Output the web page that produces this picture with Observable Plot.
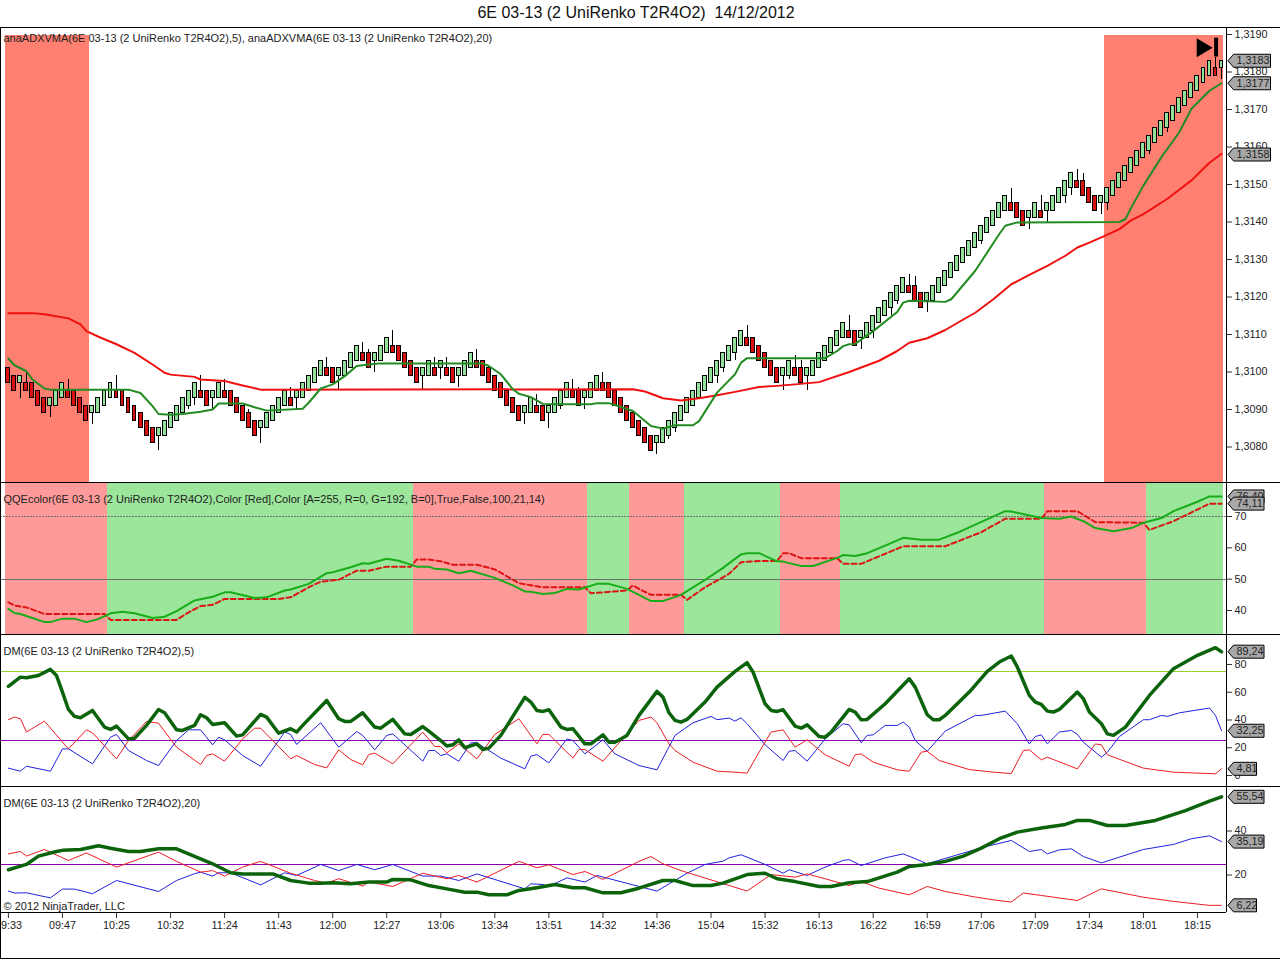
<!DOCTYPE html>
<html><head><meta charset="utf-8">
<script src="https://cdn.jsdelivr.net/npm/d3@7"></script>
<script src="https://cdn.jsdelivr.net/npm/@observablehq/plot@0.6"></script>
<style>
html,body{margin:0;padding:0;background:#fff;overflow:hidden}
#chart{position:relative;width:1280px;height:959px;overflow:hidden;font-family:"Liberation Sans",Arial,sans-serif}
#title{position:absolute;left:0;top:4px;width:1272px;text-align:center;font-size:16px;line-height:18px;color:#111;white-space:pre}
.ln{position:absolute;background:#000}
</style></head><body><div id="chart"><div id="title"></div></div>
<script>
const chartTitle = "6E 03-13 (2 UniRenko T2R4O2)  14/12/2012";
const priceLabel = "anaADXVMA(6E 03-13 (2 UniRenko T2R4O2),5), anaADXVMA(6E 03-13 (2 UniRenko T2R4O2),20)";
const qqeLabel = "QQEcolor(6E 03-13 (2 UniRenko T2R4O2),Color [Red],Color [A=255, R=0, G=192, B=0],True,False,100,21,14)";
const dm5Label = "DM(6E 03-13 (2 UniRenko T2R4O2),5)";
const dm20Label = "DM(6E 03-13 (2 UniRenko T2R4O2),20)";
const copyright = "© 2012 NinjaTrader, LLC";
const timeLabels = ["09:33","09:47","10:25","10:32","11:24","11:43","12:00","12:27","13:06","13:34","13:51","14:32","14:36","15:04","15:32","16:13","16:22","16:59","17:06","17:09","17:34","18:01","18:15"];

// Renko bars, pips above 1,3000
const barTop = [101,99,99,97,97,95,93,93,95,97, 95,95,93,91,91,93,95,97,95,95, 93,91,89,87,85,85,87,89,91,93, 95,97,95,95,95,97,95,95,93,91, 89,87,87,89,91,93,95,93,95,97,
 99,101,103,101,101,101,103,105,107,105, 105,105,107,109,107,107,105,103,101,101, 103,101,103,101,101,101,103,105,103,103, 101,99,97,95,93,91,91,93,91,91, 91,93,95,97,95,95,95,97,99,97,
 97,95,93,91,89,87,85,83,83,85, 87,89,91,93,95,97,99,101,103,105, 107,109,111,109,109,107,105,103,101,101, 103,101,101,101,103,105,107,109,111,113, 111,111,111,113,115,117,119,121,123,125,
 123,123,121,121,123,125,127,129,131,133, 135,137,139,141,143,145,147,145,145,143, 143,145,143,145,147,149,151,153,151,151, 149,147,147,149,151,153,155,157,159,161, 163,165,167,169,171,173,175,177,179,181, 183,181,183];
const barBottom = [97,95,97,95,93,91,89,91,91,93, 93,91,89,87,89,89,91,93,93,91, 89,87,85,83,81,83,83,85,87,89, 91,93,93,91,93,93,93,91,89,87, 85,83,85,85,87,89,91,91,93,93,
 95,97,99,99,97,99,99,101,103,103, 101,103,103,105,105,103,101,99,97,99, 99,99,101,99,97,99,99,101,101,99, 97,95,93,91,89,87,89,89,89,87, 89,89,91,93,93,91,93,93,95,95,
 93,91,89,87,85,83,81,79,81,81, 83,85,87,89,91,93,95,97,99,101, 103,105,107,107,105,103,101,99,97,99, 99,99,97,99,99,101,103,105,107,109, 109,107,109,109,111,113,115,117,119,121,
 121,119,117,119,119,121,123,125,127,129, 131,133,135,137,139,141,143,143,141,139, 141,141,141,143,143,145,147,149,149,147, 145,143,145,145,147,149,151,153,155,157, 159,161,163,165,167,169,171,173,175,177, 179,179,181];
const barUp = [0,0,1,0,0,0,0,1,1,1, 0,0,0,0,1,1,1,1,0,0, 0,0,0,0,0,1,1,1,1,1, 1,1,0,0,1,1,0,0,0,0, 0,0,1,1,1,1,1,0,1,1,
 1,1,1,0,0,1,1,1,1,0, 0,1,1,1,0,0,0,0,0,1, 1,0,1,0,0,1,1,1,0,0, 0,0,0,0,0,0,1,1,0,0, 1,1,1,1,0,0,1,1,1,0,
 0,0,0,0,0,0,0,0,1,1, 1,1,1,1,1,1,1,1,1,1, 1,1,1,0,0,0,0,0,0,1, 1,0,0,1,1,1,1,1,1,1, 0,0,1,1,1,1,1,1,1,1,
 0,0,0,1,1,1,1,1,1,1, 1,1,1,1,1,1,1,0,0,0, 1,1,0,1,1,1,1,1,0,0, 0,0,1,1,1,1,1,1,1,1, 1,1,1,1,1,1,1,1,1,1, 1,0,1];
const wickHighs = [[3,100],[10,98],[18,99],[32,99],[36,98],[40,90],[47,96],[53,104],[59,108],[60,106],[64,111],[71,104],[73,104],[78,106],[88,94],[94,98],[95,96],[99,100],[123,112.5],[131,104.3],[132,103],[140,115],[150,126],[151,125.4],[167,149],[172,147],[178,154],[179,153],[201,184]];
const wickLows = [[2,93],[7,88],[14,86],[25,79],[30,90],[31,91],[34,90],[42,81],[48,90],[55,95],[61,100],[69,95],[72,98],[75,96],[86,86],[90,85],[92,90],[96,90],[108,78],[110,82],[111,84],[118,97],[119,100],[121,103],[129,95],[130,98],[133,95],[142,106],[144,109],[147,115],[148,118],[153,116],[162,134],[170,138],[173,140],[176,145],[177,147],[182,142],[183,143],[190,158],[193,164],[202,178]];

const adxvma5 = [[0,103.6],[1,101.8],[3,100.2],[4,98],[6,95.6],[7,95.3],[20,95.3],[22,94.4],[24,90.9],[25,88.8],[27,88.6],[29,88.8],[32,89.4],[34,90],[35,91.6],[39,91.6],[41,90.6],[43,89.7],[49,90.2],[50,91.8],[52,95.6],[54,96.7],[56,98.9],[58,101.6],[60,102],[62,102.3],[79,102.3],[80,101.6],[82,99.4],[84,95.4],[85,94.2],[87,93.3],[89,91.5],[91,91.4],[97,91.4],[98,91.7],[100,91.7],[104,89.6],[107,85.6],[109,84.9],[111,85.8],[114,85.8],[115,86.9],[118,94.5],[121,99.4],[122,102.5],[123,103.7],[136,103.7],[138,105.6],[139,106.9],[140,107.4],[141,107.5],[144,110.9],[148,116],[149,118.5],[150,119],[156,118.7],[157,119.4],[161,127],[165,136.8],[166,139],[168,139.9],[185,140],[186,140.8],[187,143.9],[189,149.7],[192,157.3],[195,164],[197,170.2],[200,175],[201,176],[202,177]];
const adxvma20 = [[0,115.7],[4,115.7],[6,115.4],[10,114.3],[12,112.7],[13,110.9],[15,109.4],[18,107.4],[21,105.1],[24,102],[26,99.8],[27,99.3],[31,98.7],[32,98],[36,97.6],[39,96.4],[42,95.3],[104,95.4],[106,94.8],[109,93],[112,92.4],[115,93],[118,93.8],[121,94.7],[125,96],[128,96.3],[131,96.7],[135,97.3],[140,100],[145,103],[148,105.6],[150,107.8],[153,109],[156,111.2],[159,114],[161,115.8],[164,119.4],[167,123.4],[170,125.9],[173,128.3],[176,131],[178,133.2],[180,134.5],[182,135.9],[185,138.1],[187,140.5],[189,142.1],[193,146.2],[197,151.1],[200,155.8],[202,158.2]];
const alertStarts = [-0.5,182.5];
const alertEnds = [13.5,202.4];
const priceTicks = [1.308,1.309,1.31,1.311,1.312,1.313,1.314,1.315,1.316,1.317,1.318,1.319];
const priceTags = [1.3183,1.3177,1.3158];

// QQE
const qqeRedStarts = [-0.5,67.5,103.5,128.5,172.5];
const qqeRedEnds = [16.5,96.5,112.5,138.5,189.5];
const qqeGreenStarts = [16.5,96.5,112.5,138.5,189.5];
const qqeGreenEnds = [67.5,103.5,128.5,172.5,202.4];
const qqeFast = [[0,40.5],[1,39.2],[2,38.9],[4,37.6],[6,36.3],[7,36.3],[9,37.4],[11,37.4],[13,36.3],[15,37.3],[17,39.1],[19,39.6],[21,39.1],[24,37.6],[26,38],[28,39.8],[31,43.2],[34,44.4],[36,45.8],[37,45.8],[41,44],[43,44.2],[46,46.4],[47,46.7],[50,48.5],[53,51.9],[54,52.2],[57,53.8],[59,55.1],[60,54.9],[63,56.5],[65,55.9],[68,54],[70,54],[71,53.3],[73,53.1],[75,51.9],[77,52.7],[81,50.4],[84,48],[86,46.1],[87,46],[89,45.3],[91,45.6],[93,46.9],[95,46.7],[98,48.5],[100,48.5],[103,46.9],[105,45],[107,43],[109,43],[112,45],[116,49.8],[119,53.6],[122,57.9],[123,58.3],[125,58.3],[128,55.7],[129,55.6],[132,54.2],[134,54.2],[138,56.8],[139,57.7],[141,57.4],[143,58.3],[146,60.7],[149,63.2],[152,62.6],[155,62.6],[158,64.8],[161,67.4],[166,71.7],[167,71.6],[172,69.5],[175,69.3],[177,70],[179,68.5],[181,66.3],[184,65.3],[187,66.3],[189,68],[192,69.5],[194,71.7],[198,74.7],[200,76.4],[202,76.4]];
const qqeSlow = [[0,42.6],[1,41.6],[3,41],[6,38.9],[16,38.9],[17,37],[28,37],[30,39.4],[32,41.4],[34,41.8],[36,43.7],[45,43.7],[47,44.2],[50,47.4],[52,49.2],[55,49.8],[58,52.7],[60,52.7],[63,54],[67,54],[68,56.3],[70,56.3],[72,55.7],[74,54.6],[78,54.6],[81,53.1],[85,48.7],[89,47.4],[96,47.4],[97,45.5],[103,46.4],[104,48],[105,46.9],[107,45],[112,45],[113,43.4],[116,47.4],[120,51.7],[122,55.4],[125,55.8],[128,55.8],[129,58.3],[130,58.3],[132,56.7],[138,56.7],[139,54.9],[142,54.9],[149,60.5],[156,60.5],[162,65],[166,69.3],[172,69.3],[173,71.7],[178,71.7],[181,68.2],[189,68],[190,65.7],[194,68.5],[200,74.1],[202,74.1]];
const qqeTicks = [40,50,60,70];
const qqeTags = [76.40,74.11];

// DM 5
const dm5Adx = [[0,64.2],[2,70.9],[3,70.5],[5,72.1],[7,76.5],[8,72.1],[9,60.1],[10,47.6],[11,42.6],[12,41.6],[14,46.9],[16,34.9],[17,33.2],[18,35.6],[20,26.4],[21,26.9],[23,36.1],[25,47.6],[26,45.2],[28,32.9],[29,32.5],[31,36.1],[32,43.8],[33,41.6],[34,36.8],[36,38],[38,28.4],[39,29.3],[42,44],[43,42.1],[45,30.5],[47,33.7],[48,31.3],[49,36.1],[53,54.1],[55,40.9],[56,39],[57,39],[59,45.2],[61,34.9],[62,34.1],[64,40.4],[66,30],[67,29.6],[69,35.3],[70,32],[72,25.2],[73,21.2],[74,22.1],[75,25.7],[76,20],[78,22.8],[79,18.7],[80,19.7],[82,28.9],[86,56.3],[87,52.9],[88,46.9],[89,46.2],[90,47.4],[92,34.9],[93,33.2],[94,33.7],[96,22.8],[97,22.8],[99,29.3],[100,24],[101,24],[103,28.9],[105,43.3],[108,60.6],[109,56.5],[110,45.2],[111,39.7],[112,38.5],[113,40.4],[116,52.9],[118,63.7],[121,75],[123,81.3],[124,74.5],[126,51.7],[127,46.9],[128,46.2],[129,47.4],[131,35.6],[132,34.1],[133,36.5],[135,28.1],[136,27.6],[137,31.3],[140,47.6],[141,45.7],[142,40.2],[143,40.4],[146,51.7],[150,69.7],[151,63.7],[153,43.8],[154,40.2],[155,40.2],[156,43.3],[160,60.1],[163,75],[165,81.8],[167,86.1],[168,78.2],[170,57.7],[171,52.9],[172,51.2],[173,46.4],[174,45.7],[175,47.6],[178,60.1],[179,55.3],[180,45.7],[182,37.3],[183,30],[184,28.9],[186,34.9],[190,57.7],[194,77],[198,86.6],[201,92.1],[202,89.24]];
const dm5Plus = [[0,40.2],[1,42.1],[2,40.9],[3,31.3],[6,39.2],[10,19.2],[13,32.9],[14,30.8],[18,12],[20,25.2],[23,38.9],[25,37.7],[28,20.4],[32,7.9],[33,14.4],[34,15.6],[36,10.3],[39,26.4],[41,34.1],[42,34.1],[47,12],[48,14.4],[51,7.9],[53,5.5],[55,18.5],[57,11.5],[59,7.7],[60,15.1],[61,16.1],[64,8.4],[69,31.3],[71,20.9],[72,20.9],[73,16.3],[75,22.8],[78,12],[81,29.6],[85,40.9],[88,22.8],[89,29.6],[90,29.6],[94,12.5],[95,18.7],[96,18.7],[99,10.3],[103,30],[105,39.7],[107,42.1],[108,38],[110,22.8],[111,18],[114,9.6],[118,3.1],[121,2.4],[123,1.7],[125,16.8],[127,31.3],[129,32.9],[131,20.4],[133,25.7],[136,14.9],[140,6.7],[141,14.9],[142,15.6],[144,9.6],[148,4.1],[150,3.1],[152,16.8],[153,17.5],[155,10.8],[160,4.3],[164,2.4],[167,1.4],[169,18],[170,18.5],[172,11.3],[173,13.2],[178,4.8],[181,22.8],[182,22.1],[183,14.9],[189,5.3],[194,2.4],[201,1.2],[202,4.81]];
const dm5Minus = [[0,5.3],[2,3.1],[3,6.7],[7,3.1],[9,19.2],[10,19.2],[14,8.4],[17,27.6],[18,29.6],[20,18],[23,10.8],[25,7.2],[28,25.2],[30,32.9],[32,32.9],[34,22.1],[35,27.6],[36,25.7],[39,14.4],[42,6.7],[46,31.3],[47,29.6],[48,22.4],[52,38],[55,20.4],[58,31.7],[59,28.9],[61,18.5],[63,28.9],[64,30],[69,10.3],[70,18],[71,18],[72,14.4],[73,15.6],[75,10.3],[77,23.6],[78,23.6],[82,12.5],[86,4.8],[87,13.9],[88,15.1],[90,9.1],[93,26.4],[94,25.2],[96,15.6],[99,25.7],[101,15.6],[105,7.2],[108,4.1],[111,28.9],[114,38],[117,42.6],[118,40.2],[120,41.4],[121,39.2],[122,41.6],[123,37.3],[126,22.1],[129,10.8],[130,17.5],[131,18],[133,10.3],[136,26.4],[139,37.3],[140,36.5],[142,23.6],[143,28.9],[144,29.3],[146,36.1],[148,36.1],[149,38.5],[150,34.9],[151,25.2],[153,17.5],[156,32],[161,43.3],[162,43.3],[166,46.4],[168,37.3],[170,22.8],[171,28.1],[172,29.3],[173,22.8],[175,31.3],[177,32.5],[178,29.6],[179,24],[182,13.2],[183,16.8],[185,28.1],[189,40.2],[190,40.2],[192,43.3],[193,42.6],[195,45.2],[200,48.6],[201,43.3],[202,32.25]];
const dm5Ticks = [0,20,40,60,80];
const dm5Tags = [89.24,32.25,4.81];

// DM 20
const dm20Adx = [[0,22.4],[3,24.8],[5,28.6],[8,30.7],[9,31.2],[12,31.6],[15,33.3],[17,32.2],[20,30.7],[22,30.7],[25,31.9],[28,31.9],[30,29.6],[34,25.1],[37,21],[39,20.5],[44,20.5],[47,17.5],[50,16.3],[52,16.3],[54,16.5],[57,16],[60,16.8],[63,16.8],[64,18],[67,17.8],[70,15.2],[73,13.7],[76,12.2],[78,12.2],[80,11],[83,11],[85,13],[88,14.2],[91,15.7],[94,14.2],[96,14.2],[99,11.9],[102,11.9],[105,14],[109,17.5],[111,17.5],[114,15.2],[117,15.2],[119,16.3],[123,20.2],[126,20.8],[128,18.3],[131,17],[135,14.8],[137,14.8],[140,16.5],[143,17],[145,18.7],[148,21.3],[150,23.9],[153,24.8],[156,26.2],[159,28.6],[162,32.2],[165,36.5],[168,39.5],[172,41.4],[176,43],[178,44.8],[180,44.8],[183,42.5],[186,42.5],[191,44.8],[196,49.3],[200,53.6],[202,55.54]];
const dm20Plus = [[0,29.6],[2,30.7],[3,28.6],[6,31.6],[10,26.6],[13,30],[18,23.6],[25,30.4],[28,26.2],[32,21.3],[34,22],[36,19.5],[39,23.6],[42,26.2],[47,20.8],[51,17.5],[53,16.3],[55,18.3],[59,15],[60,16.8],[64,14.8],[69,20.8],[73,18.3],[75,19.8],[78,16.8],[85,26.2],[88,23.3],[90,24.6],[94,20.2],[96,21.6],[99,18],[105,26.2],[107,28.4],[109,25.1],[112,22],[123,12.7],[127,20.2],[131,19],[133,20.5],[136,18.3],[140,15.2],[142,17],[145,14],[150,11],[153,14.8],[156,12.5],[161,10],[164,8.7],[167,7.7],[169,11.8],[172,10.7],[178,8.4],[182,13.7],[189,9.9],[194,8],[200,6.2],[202,6.22]];
const dm20Minus = [[0,12.7],[1,11.8],[3,11.9],[7,9.6],[9,13.6],[11,13.6],[14,11.5],[18,17.5],[25,12.5],[28,17.5],[31,20.6],[32,21.3],[34,19.5],[35,21],[37,21],[42,15.5],[46,21],[48,19.8],[52,24.8],[55,22],[58,24.8],[61,22.4],[64,24.8],[69,19.5],[72,19.5],[75,17.5],[78,20.5],[86,13.7],[87,16],[89,15.7],[90,14.8],[93,18.7],[96,16.8],[98,19.8],[105,14.8],[108,12.7],[113,20.8],[116,24.8],[119,26.3],[120,27.8],[122,29.2],[126,24.8],[129,20.8],[130,22.4],[133,19.8],[136,23.6],[139,26.6],[140,27],[142,24.3],[146,27.8],[149,29.6],[151,27.4],[153,25.1],[162,32.4],[167,35.7],[170,30.7],[172,31.6],[173,29.6],[175,31.4],[177,31.9],[179,28.4],[182,25.5],[189,31.6],[194,33.9],[197,36.5],[200,37.8],[202,35.19]];
const dm20Ticks = [20,40];
const dm20Tags = [55.54,35.19,6.22];
const dmLevels = [25,75];

const FONT = '"Liberation Sans",Arial,sans-serif';
const LAST = 202;
const xScale = {domain:[0,LAST], range:[7.9,1221], axis:null};
const rows = a => a.map(([i,v]) => ({i,v}));
const px = p => 1.3 + p/10000;
const comma = n => f => d3.format(n)(f).replace(".",",");
const CRISP = "crispEdges";

function tagSymbol(w){
  return {draw(c){c.moveTo(0,0);c.lineTo(5.5,-6.5);c.lineTo(w,-6.5);c.lineTo(w,6.5);c.lineTo(5.5,6.5);c.closePath();}};
}
function tagMarks(values, widths, fmt){
  return values.flatMap((v,k)=>[
    Plot.dot([v],{x:()=>LAST,y:d=>d,r:4,dx:6.5,symbol:tagSymbol(widths[k]),fill:"#a8a8a8",stroke:"#000",strokeWidth:1}),
    Plot.text([v],{x:()=>LAST,y:d=>d,text:fmt,dx:15,textAnchor:"start",fill:"#222",fontSize:10.8,fontFamily:FONT})
  ]);
}
function caption(s,dy){
  return Plot.text([s],{text:d=>d,frameAnchor:"top-left",lineAnchor:"middle",dx:3,dy,fill:"#222",fontSize:11,fontFamily:FONT});
}
function yAxis(ticks,fmt){
  return Plot.axisY({anchor:"right",ticks,tickFormat:fmt,tickSize:5,tickPadding:3,label:null,stroke:"#333",fill:"#222",fontSize:10.8,fontFamily:FONT});
}
function panel(top,height,y,marks,marginBottom=0){
  const svg = Plot.plot({width:1280,height,marginTop:0,marginBottom,marginLeft:0,marginRight:54,x:xScale,y:{...y,axis:null},marks});
  svg.style.position="absolute"; svg.style.left="0"; svg.style.top=top+"px"; svg.style.background="none";
  document.getElementById("chart").appendChild(svg);
}

document.getElementById("title").textContent = chartTitle;

// PRICE PANEL
const bars = barTop.map((t,i)=>({i,top:px(t),bottom:px(barBottom[i]),up:barUp[i]}));
const alerts = alertStarts.map((s,k)=>({s,e:alertEnds[k]}));
panel(27,455,{domain:[1.308,1.319],range:[419.5,7]},[
  Plot.rect(alerts,{x1:"s",x2:"e",y1:()=>px(70.3),y2:()=>px(189.8),fill:"#ff8070",shapeRendering:CRISP}),
  Plot.ruleX(wickHighs,{x:d=>d[0],y1:d=>px(barTop[d[0]]),y2:d=>px(d[1]),stroke:"#000",strokeWidth:1,shapeRendering:CRISP}),
  Plot.ruleX(wickLows,{x:d=>d[0],y1:d=>px(barBottom[d[0]]),y2:d=>px(d[1]),stroke:"#000",strokeWidth:1,shapeRendering:CRISP}),
  Plot.rect(bars,{x1:d=>d.i-0.33,x2:d=>d.i+0.33,y1:"bottom",y2:"top",fill:d=>d.up?"#93e09a":"#d81010",stroke:"#000",strokeWidth:1,shapeRendering:CRISP}),
  Plot.line(rows(adxvma20),{x:"i",y:d=>px(d.v),stroke:"#f01010",strokeWidth:2}),
  Plot.line(rows(adxvma5),{x:"i",y:d=>px(d.v),stroke:"#228b22",strokeWidth:2}),
  Plot.dot([199.2],{x:d=>d,y:()=>px(186.5),r:4,symbol:{draw(c){c.moveTo(-8,-9.5);c.lineTo(8,0);c.lineTo(-8,9.5);c.closePath();}},fill:"#000"}),
  Plot.ruleX([201.1],{x:d=>d,y1:()=>px(184),y2:()=>px(189),stroke:"#000",strokeWidth:4}),
  yAxis(priceTicks,comma(".4f")),
  ...tagMarks(priceTags,[42.5,42.5,42.5],comma(".4f")),
  caption(priceLabel,11)
]);

// QQE PANEL
const qqeRed = qqeRedStarts.map((s,k)=>({s,e:qqeRedEnds[k]}));
const qqeGreen = qqeGreenStarts.map((s,k)=>({s,e:qqeGreenEnds[k]}));
panel(482,152,{domain:[40,70],range:[128,34]},[
  Plot.rect(qqeRed,{x1:"s",x2:"e",y1:()=>32.4,y2:()=>81,fill:"#ff9a9a",shapeRendering:CRISP}),
  Plot.rect(qqeGreen,{x1:"s",x2:"e",y1:()=>32.4,y2:()=>81,fill:"#9be69b",shapeRendering:CRISP}),
  Plot.ruleY([50],{stroke:"#6f6f6f",strokeWidth:1,shapeRendering:CRISP}),
  Plot.ruleY([70],{stroke:"#6f6f6f",strokeWidth:1,strokeDasharray:"2,1",shapeRendering:CRISP}),
  Plot.line(rows(qqeSlow),{x:"i",y:"v",stroke:"#dd1515",strokeWidth:2,strokeDasharray:"5,3"}),
  Plot.line(rows(qqeFast),{x:"i",y:"v",stroke:"#18ad18",strokeWidth:2}),
  yAxis(qqeTicks,d=>d),
  ...tagMarks(qqeTags,[36,36],comma(".2f")),
  caption(qqeLabel,17)
]);

// DM 5 PANEL
panel(634,152,{domain:[0,80],range:[141,30]},[
  Plot.ruleY([dmLevels[1]],{stroke:"#9acd32",strokeWidth:1,shapeRendering:CRISP}),
  Plot.ruleY([dmLevels[0]],{stroke:"#8a00b0",strokeWidth:1,shapeRendering:CRISP}),
  Plot.line(rows(dm5Minus),{x:"i",y:"v",stroke:"#2020e0",strokeWidth:1}),
  Plot.line(rows(dm5Plus),{x:"i",y:"v",stroke:"#ee1c25",strokeWidth:1}),
  Plot.line(rows(dm5Adx),{x:"i",y:"v",stroke:"#0b640b",strokeWidth:3.5}),
  yAxis(dm5Ticks,d=>d),
  ...tagMarks(dm5Tags,[36,36,28.5],comma(".2f")),
  caption(dm5Label,17)
]);

// DM 20 PANEL
const timeIdx = timeLabels.map((_,k)=>k*9);
panel(786,173,{domain:[20,40],range:[88.5,44.5]},[
  Plot.ruleY([dmLevels[0]],{stroke:"#8a00b0",strokeWidth:1,shapeRendering:CRISP}),
  Plot.line(rows(dm20Minus),{x:"i",y:"v",stroke:"#2020e0",strokeWidth:1}),
  Plot.line(rows(dm20Plus),{x:"i",y:"v",stroke:"#ee1c25",strokeWidth:1}),
  Plot.line(rows(dm20Adx),{x:"i",y:"v",stroke:"#0b640b",strokeWidth:3.5}),
  yAxis(dm20Ticks,d=>d),
  Plot.axisX({anchor:"bottom",ticks:timeIdx,tickFormat:d=>timeLabels[d/9],tickSize:6,tickPadding:3,label:null,stroke:"#333",fill:"#222",fontSize:10.8,fontFamily:FONT}),
  ...tagMarks(dm20Tags,[36,36,28.5],comma(".2f")),
  caption(dm20Label,17),
  Plot.text([copyright],{text:d=>d,frameAnchor:"top-left",lineAnchor:"middle",dx:3,dy:120,fill:"#222",fontSize:11,fontFamily:FONT})
],47);

// Panel separators and frame lines
const frameLines = [[0,27,1280,1],[0,482,1280,1],[0,634,1280,1],[0,786,1280,1],[0,912,1226,1],[0,958,1280,1],[0,27,1,931],[1226,27,1,885]];
for(const [l,t,w,h] of frameLines){
  const d=document.createElement("div");d.className="ln";
  d.style.cssText=`left:${l}px;top:${t}px;width:${w}px;height:${h}px`;
  document.getElementById("chart").appendChild(d);
}
</script></body></html>
